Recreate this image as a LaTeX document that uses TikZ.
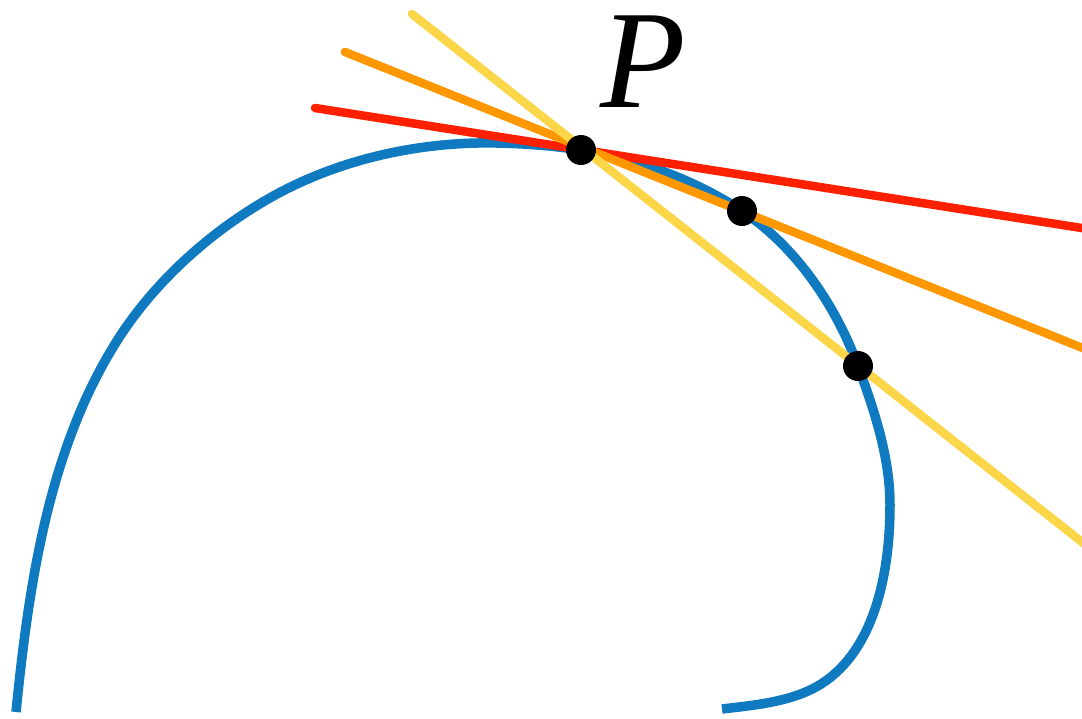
\documentclass[tikz,border=0pt]{standalone}
\usepackage{fontspec}
\setmainfont{Liberation Serif}
\definecolor{curveblue}{RGB}{16,122,192}
\definecolor{secred}{RGB}{255,32,0}
\definecolor{secorange}{RGB}{255,152,0}
\definecolor{secyellow}{RGB}{250,214,72}
\tikzset{
  curve/.style={draw=curveblue, line width=9.5pt, line cap=butt},
  secant/.style={line width=8.5pt, line cap=round},
  dot/.style={circle, fill=black, minimum size=30pt, inner sep=0pt}
}
\begin{document}
\begin{tikzpicture}[x=1pt,y=-1pt]
\useasboundingbox (0,0) rectangle (1082,718);
\fill[white] (0,0) rectangle (1082,718);
% points on the curve
\coordinate (Pc) at (581,150);
\coordinate (Qc) at (742,211);
\coordinate (Rc) at (858,366);
\begin{scope}
\clip (0,0) rectangle (1082,718);
% curve
\draw[curve] (16,712)
  .. controls (28.7,586) and (48,452) .. (115,344)
  .. controls (151.8,284.5) and (207.3,233.9) .. (268,199)
  .. controls (336.5,159.7) and (418,141.4) .. (497,143)
  .. controls (525,143.6) and (553.3,145.7) .. (Pc)
  .. controls (637.3,158.8) and (694.4,179.6) .. (Qc)
  .. controls (795.9,246.5) and (835.7,305.4) .. (Rc)
  .. controls (874.4,410.6) and (890,457.5) .. (890,505)
  .. controls (890,567) and (877,643.4) .. (827,680)
  .. controls (798,701.3) and (757.7,704.8) .. (722,709);
% secant / tangent lines
\coordinate (redA) at (315,108);
\coordinate (redB) at (1120,234);
\coordinate (orA) at (345,52);
\coordinate (orB) at (1120,363);
\coordinate (yeA) at (412,14);
\coordinate (yeB) at (1120,572);
\draw[secant, secred] (redA) -- (redB);
\draw[secant, secorange] (orA) -- (orB);
\draw[secant, secyellow] (yeA) -- (yeB);
\end{scope}
\node[dot] (P) at (Pc) {};
\node[dot] (Q) at (Qc) {};
\node[dot] (R) at (Rc) {};
\node[anchor=base west, inner xsep=8pt, inner ysep=4pt, text height=93pt, text depth=0pt,
      font=\fontsize{140}{144}\selectfont\itshape] (Plabel) at (592,107) {P};
\end{tikzpicture}
\end{document}
